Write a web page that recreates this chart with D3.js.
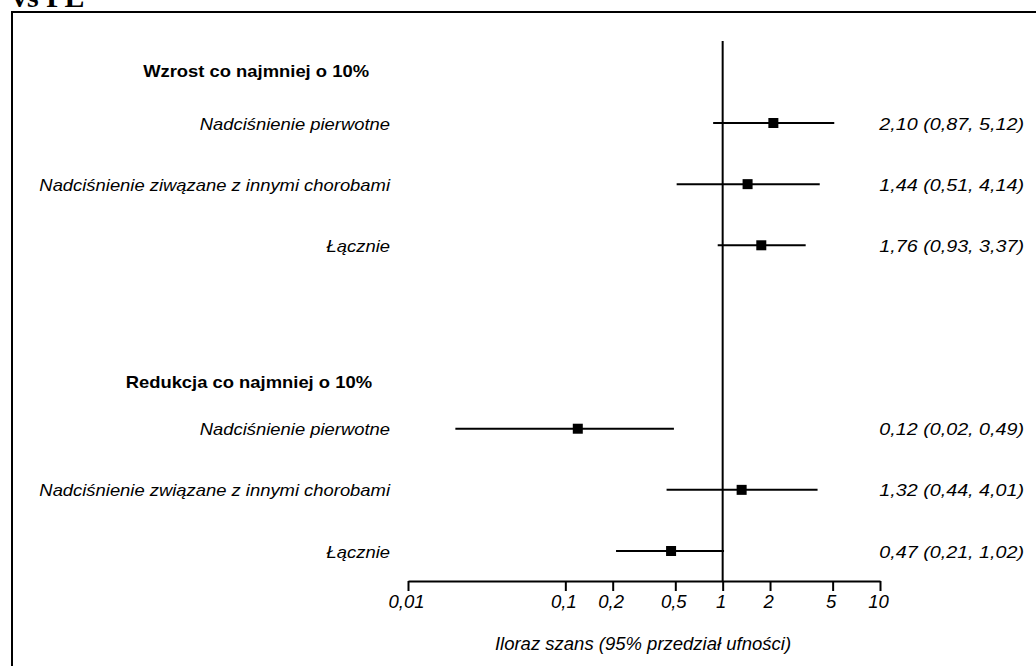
<!DOCTYPE html>
<html>
<head>
<meta charset="utf-8">
<style>
  body { margin: 0; background: #fff; }
  svg { display: block; }
  .lab { font-family: 'Liberation Sans', Arial, sans-serif; font-style: italic; font-size: 16px; fill: #000; }
  .val { font-family: 'Liberation Sans', Arial, sans-serif; font-style: italic; font-size: 17px; fill: #000; }
  .head { font-family: 'Liberation Sans', Arial, sans-serif; font-weight: bold; font-size: 16px; fill: #000; }
  .ticklab { font-family: 'Liberation Sans', Arial, sans-serif; font-style: italic; font-size: 18.5px; }
  .whisker { stroke: #000; stroke-width: 2px; }
  .ref { stroke: #000; stroke-width: 2px; }
  .frame { fill: none; stroke: #000; stroke-width: 2px; }
</style>
</head>
<body>
<svg id="chart" width="1036" height="666"></svg>
<script src="https://cdn.jsdelivr.net/npm/d3@7"></script>
<script>
    // data
    var groupTitles = ['Wzrost co najmniej o 10%', 'Redukcja co najmniej o 10%'];
    var rowKeys = ['w1', 'w2', 'w3', 'gap1', 'gap2', 'r1', 'r2', 'r3'];
    var rowIds = ['w1', 'w2', 'w3', 'r1', 'r2', 'r3'];
    var rowLabels = ['Nadciśnienie pierwotne', 'Nadciśnienie ziwązane z innymi chorobami', 'Łącznie',
                     'Nadciśnienie pierwotne', 'Nadciśnienie związane z innymi chorobami', 'Łącznie'];
    var oddsRatio = [2.10, 1.44, 1.76, 0.12, 1.32, 0.47];
    var ciLow = [0.87, 0.51, 0.93, 0.02, 0.44, 0.21];
    var ciHigh = [5.12, 4.14, 3.37, 0.49, 4.01, 1.02];
    var tickValues = [0.01, 0.1, 0.2, 0.5, 1, 2, 5, 10];
    var xTitle = 'Iloraz szans (95% przedział ufności)';

    var fmt = function(v) { return d3.format('.2f')(v).replace('.', ','); };
    var tickFmt = function(v) { return String(v).replace('.', ','); };

    var svg = d3.select('#chart');
    var axisY = 581;
    var sx = 1.15;  // labels look a bit stretched in the original
    var sxVal = 1.16;

    var x = d3.scaleLog().domain([0.01, 10]).range([408, 880]);
    var y = d3.scalePoint().domain(rowKeys).range([123, 551]);

    // frame (right and bottom edges fall outside the picture)
    svg.append('rect').attr('class', 'frame')
        .attr('x', 12).attr('y', 12).attr('width', 1100).attr('height', 700);

    // cut off title at top
    svg.append('text')
        .attr('x', 12).attr('y', 7)
        .style('font-family', "'Liberation Serif', 'Times New Roman', serif")
        .style('font-weight', 'bold').style('font-size', '30px')
        .text('vs PE');

    // reference line at OR = 1
    svg.append('line').attr('class', 'ref')
        .attr('x1', x(1)).attr('x2', x(1))
        .attr('y1', 41).attr('y2', axisY);

    // axis
    var xAxis = d3.axisBottom(x).tickValues(tickValues).tickFormat(tickFmt)
        .tickSize(10).tickSizeOuter(0).tickPadding(5);
    var gx = svg.append('g').attr('transform', 'translate(0,' + axisY + ')').call(xAxis);
    gx.select('.domain').attr('stroke-width', 2);
    gx.selectAll('.tick line').attr('stroke-width', 2);
    gx.selectAll('.tick text').attr('class', 'ticklab')
        .attr('y', 27).attr('dy', null).attr('x', -2);
    gx.attr('font-family', null).attr('font-size', null);

    svg.append('text').attr('class', 'ticklab').attr('text-anchor', 'middle')
        .attr('x', 643).attr('y', 650)
        .text(xTitle);

    // group headers
    var headY = [y('w1') - 46, y('r1') - 41];
    var headRight = [369, 372];
    groupTitles.forEach(function(t, i) {
        svg.append('g').attr('transform', 'translate(' + headRight[i] + ',' + headY[i] + ') scale(' + sx + ',1)')
            .append('text').attr('class', 'head').attr('text-anchor', 'end').text(t);
    });

    var rows = rowIds.map(function(id, i) {
        return { id: id, label: rowLabels[i], or: oddsRatio[i], lo: ciLow[i], hi: ciHigh[i] };
    });

    // row labels
    svg.selectAll('g.rowlab').data(rows).enter().append('g')
        .attr('transform', function(d) { return 'translate(390,' + (y(d.id) + 6.5) + ') scale(' + sx + ',1)'; })
        .append('text').attr('class', 'lab').attr('text-anchor', 'end')
        .text(function(d) { return d.label; });

    // estimate text
    svg.selectAll('g.vallab').data(rows).enter().append('g')
        .attr('transform', function(d) { return 'translate(1024,' + (y(d.id) + 6.5) + ') scale(' + sxVal + ',1)'; })
        .append('text').attr('class', 'val').attr('text-anchor', 'end')
        .text(function(d) { return fmt(d.or) + ' (' + fmt(d.lo) + ', ' + fmt(d.hi) + ')'; });

    // whiskers
    svg.selectAll('line.whisker').data(rows).enter().append('line').attr('class', 'whisker')
        .attr('x1', function(d) { return x(d.lo); })
        .attr('x2', function(d) { return x(d.hi); })
        .attr('y1', function(d) { return y(d.id); })
        .attr('y2', function(d) { return y(d.id); });

    // squares
    var sq = 10;
    svg.selectAll('rect.est').data(rows).enter().append('rect').attr('class', 'est')
        .attr('x', function(d) { return x(d.or) - sq / 2; })
        .attr('y', function(d) { return y(d.id) - sq / 2; })
        .attr('width', sq).attr('height', sq)
        .attr('fill', '#000');
</script>
</body>
</html>
